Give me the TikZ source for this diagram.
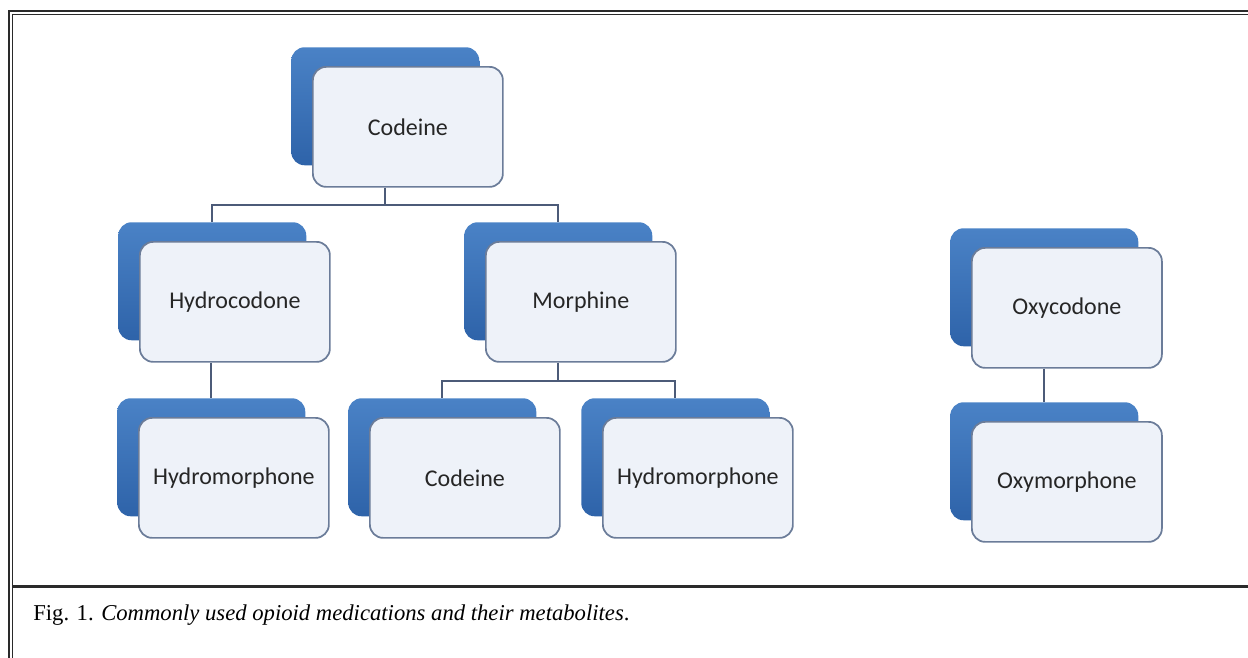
\documentclass[tikz,border=0pt]{standalone}
\usepackage{fontspec}
\setmainfont{Liberation Serif}
\newfontfamily\boxfont{Carlito}
\definecolor{bluebox}{HTML}{3A72B9}
\definecolor{bluetop}{HTML}{4A82C6}
\definecolor{bluebot}{HTML}{2E63A9}
\definecolor{frontfill}{HTML}{EEF2F9}
\definecolor{frontline}{HTML}{6B7C99}
\definecolor{connc}{HTML}{4C5B78}
\definecolor{framec}{HTML}{2A2A2A}
\tikzset{
  backbox/.style={rectangle, rounded corners=10pt, anchor=north west,
    minimum width=141pt, minimum height=88.5pt, inner sep=0pt,
    top color=bluetop, bottom color=bluebot, draw=none},
  frontbox/.style={rectangle, rounded corners=10pt, anchor=north west,
    minimum width=142.5pt, minimum height=90pt, inner sep=0pt,
    fill=frontfill, draw=frontline, line width=1.3pt,
    font=\boxfont\fontsize{18}{20}\selectfont, text=black!85},
  conn/.style={draw=connc, line width=1.5pt},
  frameline/.style={draw=framec},
}
\newcommand{\drugbox}[4]{%
  \node[backbox] (#1b) at (#2,#3) {};
  \node[frontbox] (#1) at (#2+21,#3+19) {#4};
}
\begin{document}
\begin{tikzpicture}[x=0.75pt,y=-0.75pt]
\useasboundingbox (0,0) rectangle (1248,657);
% frame
\draw[frameline, line width=1.9pt] (9.2,700) -- (9.2,11.2) -- (1260,11.2);
\draw[frameline, line width=0.9pt] (12.8,700) -- (12.8,14.8) -- (1260,14.8);
\draw[frameline, line width=1.9pt] (12.8,586.5) -- (1260,586.5);
% boxes
\drugbox{cod}{291}{47}{Codeine}
\drugbox{hyd}{118}{222}{Hydrocodone}
\drugbox{mor}{464}{222}{Morphine}
\drugbox{hymL}{117}{398}{Hydromorphone}
\drugbox{codB}{348}{398}{Codeine}
\drugbox{hymR}{581}{398}{Hydromorphone}
\drugbox{oxy}{950}{228}{Oxycodone}
\drugbox{oxm}{950}{402}{Oxymorphone}
% connectors
\draw[conn] (cod.south -| codb.north) -- ++(0,17) coordinate (j1) -| (hydb.north);
\draw[conn] (j1) -| (morb.north);
\draw[conn] (hyd.south -| hymLb.north) -- (hymLb.north);
\draw[conn] (mor.south -| morb.north) -- ++(0,18) coordinate (j2) -| (codBb.north);
\draw[conn] (j2) -| (hymRb.north);
\draw[conn] (oxy.south -| oxmb.north) -- (oxmb.north);
% caption
\node[anchor=base west, inner sep=0pt, font=\fontsize{17}{20}\selectfont] (cap) at (33,620)
  {Fig. 1. \textit{Commonly used opioid medications and their metabolites}.};
\end{tikzpicture}
\end{document}
